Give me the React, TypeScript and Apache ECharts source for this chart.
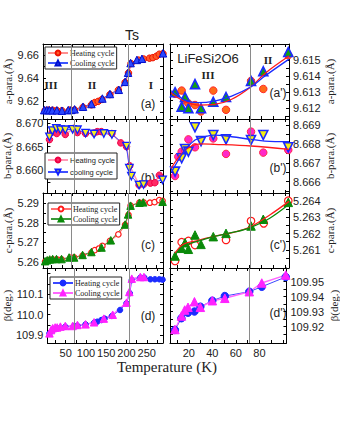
import React, { useEffect, useRef } from "react";
import * as echarts from "echarts";

type P = [number, number];

const SANS = "'Liberation Sans', Arial, sans-serif";
const SERIF = "'Liberation Serif', 'Times New Roman', serif";

// ---------- axes ----------
const leftXRange: P = [5, 290];
const leftXLabels = [50, 100, 150, 200, 250];
const leftXTicks = [25, 50, 75, 100, 125, 150, 175, 200, 225, 250, 275];
const rightXRange: P = [4, 103];
const rightXLabels = [20, 40, 60, 80];
const rightXTicks = [10, 20, 30, 40, 50, 60, 70, 80, 90, 100];
const leftMarks = [71, 208];
const rightMarks = [71];

const aRange: P = [9.604, 9.67];
const aLabels = [9.62, 9.64, 9.66];
const aTicks = [9.61, 9.62, 9.63, 9.64, 9.65, 9.66];
const bRange: P = [8.6551, 8.6709];
const bLabels = [8.66, 8.665, 8.67];
const bTicks = [8.6575, 8.66, 8.6625, 8.665, 8.6675, 8.67];
const cRange: P = [5.2568, 5.2953];
const cLabels = [5.26, 5.27, 5.28, 5.29];
const cTicks = [5.26, 5.265, 5.27, 5.275, 5.28, 5.285, 5.29];
const dRange: P = [109.861, 110.227];
const dLabels = [109.9, 110.0, 110.1];
const dTicks = [109.9, 109.95, 110.0, 110.05, 110.1, 110.15, 110.2];

const apRange: P = [9.61133, 9.616];
const apLabels = [9.612, 9.613, 9.614, 9.615];
const apTicks = [9.6115, 9.612, 9.6125, 9.613, 9.6135, 9.614, 9.6145, 9.615, 9.6155];
const bpRange: P = [8.6654, 8.66932];
const bpLabels = [8.666, 8.667, 8.668, 8.669];
const bpTicks = [8.6655, 8.666, 8.6665, 8.667, 8.6675, 8.668, 8.6685, 8.669];
const cpRange: P = [5.2599, 5.26447];
const cpLabels = [5.261, 5.262, 5.263, 5.264];
const cpTicks = [5.2605, 5.261, 5.2615, 5.262, 5.2625, 5.263, 5.2635, 5.264];
const dpRange: P = [109.909, 109.959];
const dpLabels = [109.92, 109.93, 109.94, 109.95];
const dpTicks = [109.915, 109.92, 109.925, 109.93, 109.935, 109.94, 109.945, 109.95, 109.955];

// ---------- data: left panels (T in K) ----------
const aHeating: P[] = [[10, 9.6115], [18, 9.6118], [28, 9.6117], [38, 9.6115], [50, 9.6113], [68, 9.6118], [80, 9.612], [100, 9.6143], [120, 9.6165], [128, 9.6185], [136, 9.6195], [145, 9.6212], [164, 9.6255], [184, 9.6295], [200, 9.6362], [208, 9.6445], [214, 9.6528], [232, 9.6558], [244, 9.6568], [258, 9.6575], [266, 9.658], [274, 9.6592], [281, 9.661], [290, 9.6615]];
const aCooling: P[] = [[8, 9.6118], [14, 9.6118], [20, 9.6118], [27, 9.6116], [38, 9.6116], [50, 9.6113], [65, 9.6118], [72, 9.612], [80, 9.6125], [100, 9.6148], [120, 9.6172], [146, 9.622], [164, 9.626], [185, 9.6297], [200, 9.6367], [207, 9.6447], [213, 9.6532], [228, 9.656], [240, 9.657], [290, 9.6618]];

const bHeating: P[] = [[10, 8.6665], [17, 8.6681], [28, 8.6678], [37, 8.6686], [49, 8.6676], [70, 8.6689], [79, 8.668], [99, 8.6678], [120, 8.6679], [128, 8.6682], [138, 8.6682], [164, 8.6678], [186, 8.6658], [200, 8.665], [208, 8.6609], [231, 8.6568], [243, 8.657], [259, 8.6572], [270, 8.6573], [281, 8.6589]];
const bCooling: P[] = [[10, 8.6671], [17, 8.6684], [27, 8.6689], [37, 8.6686], [49, 8.6686], [67, 8.6687], [79, 8.6686], [99, 8.6679], [120, 8.6677], [144, 8.6678], [164, 8.6676], [200, 8.6651], [207, 8.6604], [212, 8.6587], [231, 8.6568], [242, 8.6569], [289, 8.6579]];

const cHeating: P[] = [[10, 5.26], [18, 5.2608], [28, 5.2612], [38, 5.2612], [49, 5.2612], [70, 5.2621], [79, 5.2622], [99, 5.2631], [120, 5.2647], [128, 5.266], [138, 5.2668], [146, 5.2681], [164, 5.2707], [184, 5.2741], [200, 5.2789], [208, 5.284], [213, 5.2888], [234, 5.2903], [244, 5.2905], [259, 5.2903], [270, 5.2906], [281, 5.2916], [289, 5.2913]];
const cCooling: P[] = [[10, 5.2603], [15, 5.2608], [21, 5.2612], [28, 5.2614], [37, 5.2614], [49, 5.2614], [67, 5.2622], [79, 5.2622], [99, 5.2635], [120, 5.265], [144, 5.2673], [166, 5.271], [200, 5.2791], [207, 5.2843], [213, 5.2888], [234, 5.2903], [243, 5.2905], [289, 5.2908]];

const dHeating: P[] = [[10, 109.908], [18, 109.924], [29, 109.933], [49, 109.941], [70, 109.944], [79, 109.945], [99, 109.952], [120, 109.96], [128, 109.965], [138, 109.973], [146, 109.98], [164, 109.993], [184, 110.022], [200, 110.055], [208, 110.104], [213, 110.168], [234, 110.18], [244, 110.18], [259, 110.172], [270, 110.172], [281, 110.172], [289, 110.17]];
const dCooling: P[] = [[10, 109.908], [14, 109.924], [18, 109.933], [24, 109.937], [29, 109.937], [37, 109.941], [49, 109.944], [67, 109.944], [79, 109.949], [99, 109.952], [120, 109.962], [144, 109.98], [166, 109.999], [200, 110.058], [207, 110.11], [213, 110.175], [234, 110.183], [243, 110.183]];

// ---------- data: right panels (low T) ----------
const apHeating: P[] = [[8.2, 9.6129], [13.7, 9.6131], [16.5, 9.6125], [19.3, 9.6123], [24.8, 9.6122], [29.8, 9.6118], [40, 9.6131], [50.6, 9.6119], [71.4, 9.6137], [81.6, 9.6132], [102.4, 9.6153]];
const apCooling: P[] = [[8.2, 9.613], [13.7, 9.6121], [16.5, 9.6127], [19.3, 9.612], [24.8, 9.6135], [29.8, 9.612], [40, 9.6124], [50.6, 9.6127], [71.4, 9.6137], [81.6, 9.6143], [102.4, 9.6155]];
const apHeatFit: P[] = [[5, 9.61293], [16.5, 9.61241], [27.5, 9.6122], [41, 9.61224], [55.3, 9.61256], [71.4, 9.61334], [83, 9.61417], [103, 9.61525]];
const apCoolFit: P[] = [[5, 9.61309], [16.5, 9.61251], [27.5, 9.61235], [41, 9.61245], [55.3, 9.61276], [71.4, 9.61334], [83, 9.61401], [103, 9.61506]];

const bpHeating: P[] = [[8.2, 8.6663], [10.9, 8.66732], [13.7, 8.66759], [16.5, 8.66768], [19.3, 8.66824], [24.8, 8.66782], [40, 8.66829], [50.6, 8.66747], [71.4, 8.66865], [81.6, 8.66754], [102.4, 8.66768]];
const bpCooling: P[] = [[8.2, 8.66653], [13.7, 8.66724], [16.5, 8.66773], [19.3, 8.66759], [24.8, 8.66888], [29.8, 8.66815], [40, 8.66847], [50.6, 8.66824], [71.4, 8.66821], [81.6, 8.66847], [102.4, 8.66782]];
const bpHeatFit: P[] = [[5, 8.66671], [13.7, 8.6675], [22, 8.66789], [30, 8.668], [41, 8.66798], [71.4, 8.66789], [103, 8.66771]];
const bpCoolFit: P[] = [[5, 8.66648], [16.5, 8.66768], [24.8, 8.66821], [33, 8.66838], [41, 8.66847], [55.3, 8.66838], [71.4, 8.66824], [83, 8.66815], [103, 8.66812]];

const cpHeating: P[] = [[8.2, 5.26033], [13.7, 5.26147], [19.3, 5.26155], [24.8, 5.2613], [50.6, 5.26161], [71.4, 5.26276], [82, 5.26262], [102.4, 5.264]];
const cpCooling: P[] = [[8.2, 5.26063], [13.7, 5.2611], [16.5, 5.26144], [19.3, 5.26104], [24.8, 5.26191], [29.8, 5.26134], [40, 5.26181], [50.6, 5.26201], [71.4, 5.26246], [81.6, 5.26287], [102.4, 5.2639]];
const cpHeatFit: P[] = [[8.2, 5.2608], [15, 5.26134], [26, 5.26156], [40, 5.26181], [59, 5.26211], [71.4, 5.26242], [87, 5.26313], [103, 5.26396]];
const cpCoolFit: P[] = [[8.2, 5.26069], [15, 5.26124], [26, 5.2615], [40, 5.26181], [59, 5.26211], [71.4, 5.26238], [87, 5.26293], [103, 5.26378]];

const dpHeating: P[] = [[8.2, 109.9177], [13.7, 109.9255], [19.3, 109.9292], [24.8, 109.93], [29.8, 109.9332], [40, 109.9372], [50.6, 109.9403], [71.4, 109.9432], [82, 109.9465], [102.4, 109.953]];
const dpCooling: P[] = [[8.2, 109.918], [13.7, 109.927], [16.5, 109.931], [19.3, 109.9328], [24.8, 109.9365], [29.8, 109.9328], [40, 109.9372], [50.6, 109.9388], [71.4, 109.9432], [82, 109.949], [102.4, 109.9543]];

// ---------- presentation ----------
const LEG: Record<string, string> = {
  aH: "Heating cycle", aC: "Cooling cycle",
  bH: "Heating cycle", bC: "cooling cycle",
  cH: "Heating cycle", cC: "Cooling cycle",
  dH: "Heating cycle", dC: "Cooling cycle",
};

interface S {
  id: string; data: P[]; symbol?: string; size?: number; rotate?: number;
  fill?: string; border?: string; line: string; lw: number; smooth?: boolean; bw?: number;
}
interface Panel {
  box: [number, number, number, number]; xr: P; xl: number[]; xt: number[];
  yr: P; yl: number[]; yt: number[]; dec: number; side: "left" | "right";
  name: string; showX: boolean; marks: number[]; series: S[];
}

const RED = "#ff1a1a", BLUE = "#1c2cff", GREEN = "#0a8a0a", MAG = "#ff22ff";

const panels: Panel[] = [
  { box: [43, 44, 120, 75], xr: leftXRange, xl: leftXLabels, xt: leftXTicks, yr: aRange, yl: aLabels, yt: aTicks, dec: 2, side: "left", name: "a-para.(Å)", showX: false, marks: leftMarks,
    series: [
      { id: "aH", data: aHeating, symbol: "circle", size: 6.5, fill: "#ff5a2a", border: "#ee1100", line: "#ff8f8f", lw: 1.8 },
      { id: "aC", data: aCooling, symbol: "triangle", size: 7.5, fill: "#2a48ff", border: "#0010d0", line: "#3a55ff", lw: 1 },
    ] },
  { box: [43, 119, 120, 74], xr: leftXRange, xl: leftXLabels, xt: leftXTicks, yr: bRange, yl: bLabels, yt: bTicks, dec: 3, side: "left", name: "b-para.(Å)", showX: false, marks: leftMarks,
    series: [
      { id: "bH", data: bHeating, symbol: "circle", size: 6.5, fill: "#ff2a66", border: "#ee0044", line: "#ff9ab5", lw: 1.6 },
      { id: "bC", data: bCooling, symbol: "triangle", rotate: 180, size: 7.5, fill: "#f4f020", border: "#1020ff", line: "#4050ff", lw: 1, bw: 1.3 },
    ] },
  { box: [43, 193, 120, 75], xr: leftXRange, xl: leftXLabels, xt: leftXTicks, yr: cRange, yl: cLabels, yt: cTicks, dec: 2, side: "left", name: "c-para.(Å)", showX: false, marks: leftMarks,
    series: [
      { id: "cH", data: cHeating, symbol: "circle", size: 5.5, fill: "#ffffff", border: RED, line: "#ff7070", lw: 1.2, bw: 1.2 },
      { id: "cC", data: cCooling, symbol: "triangle", size: 7.5, fill: GREEN, border: GREEN, line: "#3a9a3a", lw: 1 },
    ] },
  { box: [43, 268, 120, 75], xr: leftXRange, xl: leftXLabels, xt: leftXTicks, yr: dRange, yl: dLabels, yt: dTicks, dec: 1, side: "left", name: "β(deg.)", showX: true, marks: leftMarks,
    series: [
      { id: "dH", data: dHeating, symbol: "circle", size: 5.5, fill: BLUE, border: BLUE, line: "#3a48ff", lw: 1 },
      { id: "dC", data: dCooling, symbol: "triangle", size: 7.5, fill: MAG, border: MAG, line: "#ff66ff", lw: 1.4 },
    ] },
  { box: [170, 44, 119, 75], xr: rightXRange, xl: rightXLabels, xt: rightXTicks, yr: apRange, yl: apLabels, yt: apTicks, dec: 3, side: "right", name: "a-para.(Å)", showX: false, marks: rightMarks,
    series: [
      { id: "apH", data: apHeating, symbol: "circle", size: 7.5, fill: "#ff6a1a", border: "#ff2a2a", line: "none", lw: 0 },
      { id: "apC", data: apCooling, symbol: "triangle", size: 9, fill: "#12a012", border: "#1a2aff", line: "none", lw: 0, bw: 1.6 },
      { id: "apHF", data: apHeatFit, line: RED, lw: 1.3, smooth: true },
      { id: "apCF", data: apCoolFit, line: BLUE, lw: 1.3, smooth: true },
    ] },
  { box: [170, 119, 119, 74], xr: rightXRange, xl: rightXLabels, xt: rightXTicks, yr: bpRange, yl: bpLabels, yt: bpTicks, dec: 3, side: "right", name: "b-para.(Å)", showX: false, marks: rightMarks,
    series: [
      { id: "bpH", data: bpHeating, symbol: "circle", size: 7.5, fill: "#ff28c8", border: "#ff2a4a", line: "none", lw: 0 },
      { id: "bpC", data: bpCooling, symbol: "triangle", rotate: 180, size: 9, fill: "#f4ee10", border: "#1a2aff", line: "none", lw: 0, bw: 1.6 },
      { id: "bpHF", data: bpHeatFit, line: RED, lw: 1.3, smooth: true },
      { id: "bpCF", data: bpCoolFit, line: BLUE, lw: 1.3, smooth: true },
    ] },
  { box: [170, 193, 119, 75], xr: rightXRange, xl: rightXLabels, xt: rightXTicks, yr: cpRange, yl: cpLabels, yt: cpTicks, dec: 3, side: "right", name: "c-para.(Å)", showX: false, marks: rightMarks,
    series: [
      { id: "cpH", data: cpHeating, symbol: "circle", size: 7.5, fill: "#ffffff", border: RED, line: "none", lw: 0, bw: 1.2 },
      { id: "cpC", data: cpCooling, symbol: "triangle", size: 8.5, fill: GREEN, border: GREEN, line: "none", lw: 0 },
      { id: "cpHF", data: cpHeatFit, line: RED, lw: 1.3, smooth: true },
      { id: "cpCF", data: cpCoolFit, line: GREEN, lw: 1.3, smooth: true },
    ] },
  { box: [170, 268, 119, 75], xr: rightXRange, xl: rightXLabels, xt: rightXTicks, yr: dpRange, yl: dpLabels, yt: dpTicks, dec: 2, side: "right", name: "β(deg.)", showX: true, marks: rightMarks,
    series: [
      { id: "dpH", data: dpHeating, symbol: "circle", size: 7.5, fill: BLUE, border: BLUE, line: "#3a48ff", lw: 1 },
      { id: "dpC", data: dpCooling, symbol: "triangle", size: 8.5, fill: MAG, border: MAG, line: "#ff66ff", lw: 1.4 },
    ] },
];

const legendSpecs = [
  { ids: ["aH", "aC"], left: 45, top: 47, font: SERIF, size: 8, gap: 2, pad: 2 },
  { ids: ["bH", "bC"], left: 45, top: 153, font: SANS, size: 7.5, gap: 4, pad: 3 },
  { ids: ["cH", "cC"], left: 48, top: 203, font: SERIF, size: 8, gap: 2, pad: 2 },
  { ids: ["dH", "dC"], left: 50, top: 277, font: SERIF, size: 8, gap: 2, pad: 2 },
];

const texts: { t: string; x: number; y: number; f: string; s: number; w?: string }[] = [
  { t: "Ts", x: 132, y: 35, f: SANS, s: 14 },
  { t: "III", x: 51, y: 85, f: SERIF, s: 11, w: "bold" },
  { t: "II", x: 92, y: 85, f: SERIF, s: 11, w: "bold" },
  { t: "I", x: 151, y: 85, f: SERIF, s: 11, w: "bold" },
  { t: "(a)", x: 148, y: 104, f: SANS, s: 12 },
  { t: "(b)", x: 148, y: 178, f: SANS, s: 12 },
  { t: "(c)", x: 148, y: 245, f: SANS, s: 12 },
  { t: "(d)", x: 148, y: 316, f: SANS, s: 12 },
  { t: "LiFeSi2O6", x: 208, y: 58, f: SANS, s: 13 },
  { t: "III", x: 208, y: 75, f: SERIF, s: 11, w: "bold" },
  { t: "II", x: 268, y: 60, f: SERIF, s: 11, w: "bold" },
  { t: "(a')", x: 278, y: 93, f: SANS, s: 12 },
  { t: "(b')", x: 278, y: 168, f: SANS, s: 12 },
  { t: "(c')", x: 278, y: 245, f: SANS, s: 12 },
  { t: "(d')", x: 278, y: 313, f: SANS, s: 12 },
  { t: "Temperature (K)", x: 167, y: 367, f: SERIF, s: 15 },
];

function buildOption() {
  const grid: any[] = [], xAxis: any[] = [], yAxis: any[] = [], series: any[] = [], legend: any[] = [];
  const line = { show: true, onZero: false, lineStyle: { color: "#000", width: 1 } };
  const tick = { show: true, inside: true, length: 3, lineStyle: { color: "#000", width: 1 } };
  const lab = { color: "#222", fontFamily: SANS, fontSize: 11, margin: 4 };
  panels.forEach((p, i) => {
    grid.push({ left: p.box[0], top: p.box[1], width: p.box[2], height: p.box[3] });
    const xBase = { type: "value", gridIndex: i, min: p.xr[0], max: p.xr[1], axisLine: line, axisTick: { ...tick, customValues: p.xt }, splitLine: { show: false } };
    xAxis.push({ ...xBase, position: "bottom", axisLabel: { ...lab, show: p.showX, customValues: p.xl } });
    xAxis.push({ ...xBase, position: "top", axisLabel: { show: false } });
    const fmt = (v: number) => v.toFixed(p.dec);
    const yBase = { type: "value", gridIndex: i, min: p.yr[0], max: p.yr[1], axisLine: line, axisTick: { ...tick, customValues: p.yt }, splitLine: { show: false } };
    const named = { name: p.name, nameLocation: "middle", nameRotate: 90, nameTextStyle: { fontFamily: SERIF, fontSize: 11, color: "#222" } };
    yAxis.push({ ...yBase, position: "left", ...(p.side === "left" ? { ...named, nameGap: 26 } : {}), axisLabel: { ...lab, show: p.side === "left", customValues: p.yl, formatter: fmt } });
    yAxis.push({ ...yBase, position: "right", ...(p.side === "right" ? { ...named, nameGap: 34 } : {}), axisLabel: { ...lab, show: p.side === "right", customValues: p.yl, formatter: fmt } });
    p.series.forEach((s, k) => {
      const hasSym = !!s.symbol;
      const item: any = {
        type: "line", name: s.id, xAxisIndex: 2 * i, yAxisIndex: 2 * i, data: s.data,
        symbol: hasSym ? s.symbol : "none", symbolSize: s.size ?? 0, symbolRotate: s.rotate ?? 0, showSymbol: hasSym,
        smooth: s.smooth ? 0.35 : false, silent: true,
        itemStyle: { color: s.fill ?? s.line, borderColor: s.border ?? s.line, borderWidth: s.bw ?? 1 },
        lineStyle: s.line === "none" ? { width: 0, opacity: 0 } : { color: s.line, width: s.lw },
        z: s.symbol ? 3 : 4,
      };
      if (k === 0) {
        item.markLine = { silent: true, symbol: "none", label: { show: false }, animation: false,
          lineStyle: { color: "#8a8a8a", width: 1, type: "solid" }, data: p.marks.map((m) => ({ xAxis: m })) };
      }
      series.push(item);
    });
  });
  legendSpecs.forEach((l) => {
    legend.push({ data: l.ids, left: l.left, top: l.top, orient: "vertical", formatter: (n: string) => LEG[n] ?? n,
      itemWidth: 20, itemHeight: 6, itemGap: l.gap, padding: [l.pad, 2, l.pad, 2], borderColor: "#222", borderWidth: 1,
      backgroundColor: "#fff", selectedMode: false, textStyle: { fontFamily: l.font, fontSize: l.size, color: "#222", padding: [0, 0, 0, -3] } });
  });
  const graphic = texts.map((t) => ({ type: "text", x: t.x, y: t.y, silent: true,
    style: { text: t.t, fill: "#222", font: `${t.w ?? "normal"} ${t.s}px ${t.f}`, textAlign: "center", textVerticalAlign: "middle" } }));
  return { animation: false, backgroundColor: "#fff", grid, xAxis, yAxis, series, legend, graphic };
}

export default function App() {
  const ref = useRef<HTMLDivElement>(null);
  useEffect(() => {
    const chart = echarts.init(ref.current!, null, { renderer: "svg" });
    chart.setOption(buildOption() as any);
    return () => chart.dispose();
  }, []);
  return <div ref={ref} style={{ position: "fixed", left: 0, top: 0, width: 340, height: 440, background: "#fff" }} />;
}
